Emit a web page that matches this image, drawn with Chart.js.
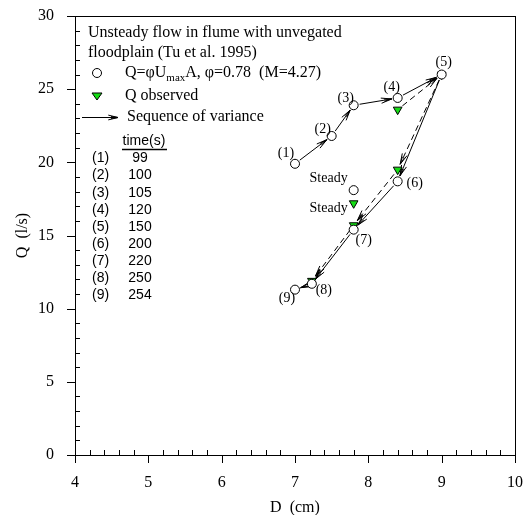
<!DOCTYPE html>
<html>
<head>
    <script src="https://cdn.jsdelivr.net/npm/chart.js@4.4.0/dist/chart.umd.min.js"></script>
    <style>
        body { margin: 0; background: #fff; }
        #wrap { width: 528px; height: 515px; }
    </style>
</head>
<body>
    <div id="wrap"><canvas id="c" width="528" height="515"></canvas></div>

    <script>
        // point numbers and their times
        const pointNames = ['(1)', '(2)', '(3)', '(4)', '(5)', '(6)', '(7)', '(8)', '(9)'];
        const timesSec = [99, 100, 105, 120, 150, 200, 220, 250, 254];

        // Q = phi Umax A (circles)
        const dCalc = [7.0, 7.5, 7.8, 8.4, 9.0, 8.4, 7.8, 7.23, 7.0];
        const qCalc = [19.9, 21.8, 23.9, 24.4, 26.0, 18.7, 15.4, 11.7, 11.3];

        // Q observed (triangles), points (4) to (8)
        const dObs = [8.4, 9.0, 8.4, 7.8, 7.23];
        const qObs = [23.6, 26.0, 19.5, 15.7, 11.9];

        // steady state points
        const dSteady = [7.8];
        const qSteadyCalc = [18.1];
        const qSteadyObs = [17.2];

        const xTicks = [4, 5, 6, 7, 8, 9, 10];
        const yTicks = [0, 5, 10, 15, 20, 25, 30];

        const serif = '"Liberation Serif", "Times New Roman", serif';
        const sans = '"Liberation Sans", Arial, sans-serif';
        const green = '#14dd14';

        const toPts = (xs, ys) => xs.map((x, i) => ({ x: x, y: ys[i] }));

        // label offsets (px) for point names
        const nameOff = [[-9, -10], [-9, -7], [-8, -7], [-6, -11], [2, -12], [17, 2], [10, 11], [12, 7], [-8, 9]];

        function arrowHead(ctx, x1, y1, x2, y2, len) {
            const a = Math.atan2(y2 - y1, x2 - x1);
            const w = 0.24;
            ctx.beginPath();
            ctx.moveTo(x2 - len * Math.cos(a - w), y2 - len * Math.sin(a - w));
            ctx.lineTo(x2, y2);
            ctx.lineTo(x2 - len * Math.cos(a + w), y2 - len * Math.sin(a + w));
            ctx.moveTo(x2 - 0.7 * len * Math.cos(a - w * 0.6), y2 - 0.7 * len * Math.sin(a - w * 0.6));
            ctx.lineTo(x2, y2);
            ctx.lineTo(x2 - 0.7 * len * Math.cos(a + w * 0.6), y2 - 0.7 * len * Math.sin(a + w * 0.6));
            ctx.stroke();
        }

        function arrow(ctx, p, q, dashed, gap) {
            const dx = q.x - p.x, dy = q.y - p.y;
            const L = Math.sqrt(dx * dx + dy * dy);
            const ux = dx / L, uy = dy / L;
            const x1 = p.x + ux * gap, y1 = p.y + uy * gap;
            const x2 = q.x - ux * gap, y2 = q.y - uy * gap;
            ctx.save();
            ctx.strokeStyle = '#000';
            ctx.lineWidth = 1;
            ctx.setLineDash(dashed ? [6, 4] : []);
            ctx.beginPath();
            ctx.moveTo(x1, y1);
            ctx.lineTo(x2, y2);
            ctx.stroke();
            ctx.setLineDash([]);
            arrowHead(ctx, x1, y1, x2, y2, 11);
            ctx.restore();
        }

        const arrowsPlugin = {
            id: 'arrows',
            beforeDatasetsDraw(chart) {
                const ctx = chart.ctx;
                const xs = chart.scales.x, ys = chart.scales.y;
                const px = (d, q) => ({ x: xs.getPixelForValue(d), y: ys.getPixelForValue(q) });
                for (let i = 0; i < dCalc.length - 1; i++) {
                    arrow(ctx, px(dCalc[i], qCalc[i]), px(dCalc[i + 1], qCalc[i + 1]), false, 6);
                }
                for (let i = 0; i < dObs.length - 1; i++) {
                    arrow(ctx, px(dObs[i], qObs[i]), px(dObs[i + 1], qObs[i + 1]), true, 6);
                }
            },
            afterDraw(chart) {
                const ctx = chart.ctx;
                const xs = chart.scales.x, ys = chart.scales.y;
                const a = chart.chartArea;
                ctx.save();
                ctx.strokeStyle = '#000';
                ctx.lineWidth = 1;
                // frame
                ctx.strokeRect(Math.round(a.left) + 0.5, Math.round(a.top) + 0.5,
                    Math.round(a.right - a.left), Math.round(a.bottom - a.top));
                ctx.beginPath();
                // x ticks: major outside, minor inside
                for (let v = 4; v <= 10.001; v += 0.2) {
                    const x = Math.round(xs.getPixelForValue(v)) + 0.5;
                    const major = Math.abs(v - Math.round(v)) < 0.01;
                    if (major) { ctx.moveTo(x, a.bottom); ctx.lineTo(x, a.bottom + 8); }
                    else { ctx.moveTo(x, a.bottom); ctx.lineTo(x, a.bottom - 5); }
                }
                // y ticks
                for (let v = 0; v <= 30; v += 1) {
                    const y = Math.round(ys.getPixelForValue(v)) + 0.5;
                    if (v % 5 === 0) { ctx.moveTo(a.left, y); ctx.lineTo(a.left - 8, y); }
                    else { ctx.moveTo(a.left, y); ctx.lineTo(a.left + 5, y); }
                }
                ctx.stroke();

                // point names
                ctx.fillStyle = '#000';
                ctx.font = '14px ' + serif;
                ctx.textAlign = 'center';
                ctx.textBaseline = 'middle';
                pointNames.forEach((n, i) => {
                    const x = xs.getPixelForValue(dCalc[i]) + nameOff[i][0];
                    const y = ys.getPixelForValue(qCalc[i]) + nameOff[i][1];
                    ctx.fillText(n, x, y);
                });
                ctx.textAlign = 'right';
                ctx.fillText('Steady', xs.getPixelForValue(dSteady[0]) - 6, ys.getPixelForValue(qSteadyCalc[0]) - 12);
                ctx.fillText('Steady', xs.getPixelForValue(dSteady[0]) - 6, ys.getPixelForValue(qSteadyObs[0]) + 5);

                // legend block
                ctx.textAlign = 'left';
                ctx.font = '16px ' + serif;
                ctx.fillText('Unsteady flow in flume with unvegated', 88, 33);
                ctx.fillText('floodplain (Tu et al. 1995)', 88, 53);

                ctx.beginPath();
                ctx.arc(97, 73, 4.5, 0, Math.PI * 2);
                ctx.fillStyle = '#fff';
                ctx.fill();
                ctx.stroke();

                ctx.fillStyle = '#000';
                let tx = 125;
                const part1 = 'Q=\u03c6U';
                ctx.fillText(part1, tx, 73);
                tx += ctx.measureText(part1).width;
                ctx.font = '11px ' + serif;
                ctx.fillText('max', tx, 78);
                tx += ctx.measureText('max').width;
                ctx.font = '16px ' + serif;
                ctx.fillText('A, \u03c6=0.78  (M=4.27)', tx, 73);

                ctx.beginPath();
                ctx.moveTo(92, 93);
                ctx.lineTo(102, 93);
                ctx.lineTo(97, 100);
                ctx.closePath();
                ctx.fillStyle = green;
                ctx.fill();
                ctx.stroke();
                ctx.fillStyle = '#000';
                ctx.fillText('Q observed', 125, 96);

                ctx.beginPath();
                ctx.moveTo(82, 117.5);
                ctx.lineTo(118, 117.5);
                ctx.stroke();
                arrowHead(ctx, 82, 117.5, 118, 117.5, 10);
                ctx.fillText('Sequence of variance', 127, 117);

                // time table
                ctx.font = '14px ' + sans;
                ctx.textAlign = 'center';
                ctx.fillText('time(s)', 144, 141);
                ctx.beginPath();
                ctx.lineWidth = 1.5;
                ctx.moveTo(122, 149.5);
                ctx.lineTo(167, 149.5);
                ctx.stroke();
                timesSec.forEach((t, i) => {
                    const y = 158.5 + i * 17.1;
                    ctx.textAlign = 'left';
                    ctx.fillText(pointNames[i], 92, y);
                    ctx.textAlign = 'center';
                    ctx.fillText(String(t), 140, y);
                });
                ctx.restore();
            }
        };

        new Chart(document.getElementById('c'), {
            type: 'scatter',
            data: {
                datasets: [{
                    label: 'calc',
                    data: toPts(dCalc, qCalc),
                    pointStyle: 'circle',
                    pointRadius: 4.5,
                    backgroundColor: '#fff',
                    borderColor: '#000',
                    borderWidth: 1
                }, {
                    label: 'observed',
                    data: toPts(dObs, qObs),
                    pointStyle: 'triangle',
                    pointRotation: 180,
                    pointRadius: 5,
                    backgroundColor: green,
                    borderColor: '#000',
                    borderWidth: 1
                }, {
                    label: 'steady calc',
                    data: toPts(dSteady, qSteadyCalc),
                    pointStyle: 'circle',
                    pointRadius: 4.5,
                    backgroundColor: '#fff',
                    borderColor: '#000',
                    borderWidth: 1
                }, {
                    label: 'steady observed',
                    data: toPts(dSteady, qSteadyObs),
                    pointStyle: 'triangle',
                    pointRotation: 180,
                    pointRadius: 5,
                    backgroundColor: green,
                    borderColor: '#000',
                    borderWidth: 1
                }]
            },
            options: {
                responsive: false,
                animation: false,
                layout: { padding: { left: 0, top: 16, right: 13, bottom: 0 } },
                plugins: {
                    legend: { display: false },
                    tooltip: { enabled: false }
                },
                scales: {
                    x: {
                        type: 'linear',
                        min: 4, max: 10,
                        afterFit: s => { s.height = 60; s.paddingLeft = 0; s.paddingRight = 0; },
                        afterBuildTicks: s => { s.ticks = xTicks.map(v => ({ value: v })); },
                        grid: { display: false },
                        border: { display: false },
                        ticks: { color: '#000', font: { family: serif, size: 16 }, padding: 10 },
                        title: { display: true, text: 'D  (cm)', color: '#000', font: { family: serif, size: 16, lineHeight: 1 }, padding: { top: 0, bottom: -1 } }
                    },
                    y: {
                        type: 'linear',
                        min: 0, max: 30,
                        afterFit: s => { s.width = 75; s.paddingTop = 0; s.paddingBottom = 0; },
                        afterBuildTicks: s => { s.ticks = yTicks.map(v => ({ value: v })); },
                        grid: { display: false },
                        border: { display: false },
                        ticks: { color: '#000', font: { family: serif, size: 16 }, padding: 13 },
                        title: { display: true, text: 'Q  (l/s)', color: '#000', font: { family: serif, size: 16, lineHeight: 1 }, padding: { top: 15, bottom: 0 } }
                    }
                }
            },
            plugins: [arrowsPlugin]
        });
    </script>
</body>
</html>
